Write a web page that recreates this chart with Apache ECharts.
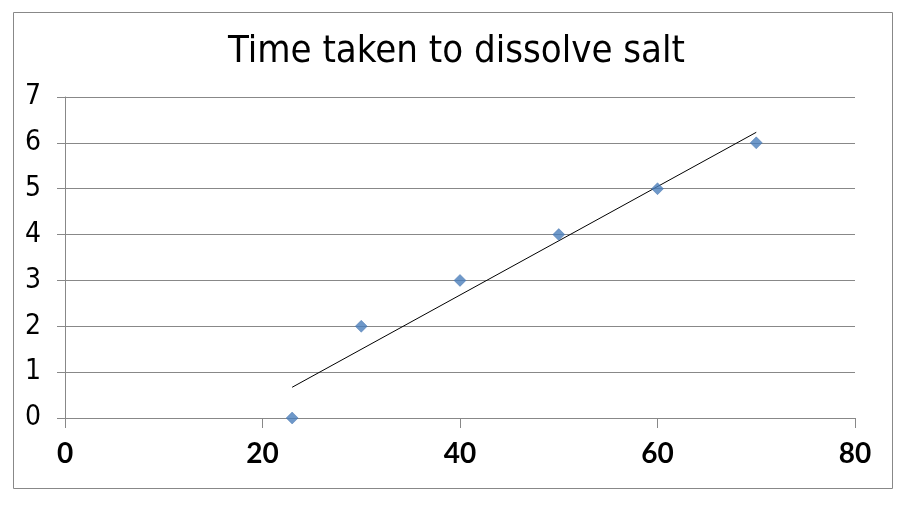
<!DOCTYPE html>
<html><head><meta charset="utf-8">
<script src="https://cdn.jsdelivr.net/npm/echarts@6/dist/echarts.min.js"></script>
<style>html,body{margin:0;padding:0;background:#fff}#c{width:918px;height:516px}</style>
</head><body><div id="c"></div>
<script>
var titleText = 'Time taken to dissolve salt';
var xValues = [23, 30, 40, 50, 60, 70];
var yValues = [0, 2, 3, 4, 5, 6];
var trendX = [23, 70];
var trendY = [0.67, 6.23];
var xTicks = [0, 20, 40, 60, 80];
var yTicks = [0, 1, 2, 3, 4, 5, 6, 7];

var points = xValues.map(function (x, i) { return [x, yValues[i]]; });
var trend = trendX.map(function (x, i) { return [x, trendY[i]]; });

var chart = echarts.init(document.getElementById('c'), null, {renderer: 'canvas'});
chart.setOption({
  animation: false,
  backgroundColor: '#fff',
  title: {
    text: titleText, left: 223, top: 28,
    textStyle: {fontFamily: '"Liberation Sans Narrow","DejaVu Sans Condensed","Roboto Condensed",sans-serif', fontWeight: 'normal', fontSize: 38, color: '#000'}
  },
  graphic: [{
    type: 'rect', shape: {x: 13.5, y: 12.5, width: 879, height: 476},
    style: {fill: 'none', stroke: '#888', lineWidth: 1}, z: -1
  }],
  grid: {left: 65, right: 63, top: 97, bottom: 98, containLabel: false},
  xAxis: {
    type: 'value', min: 0, max: 80, interval: 20,
    axisLine: {show: true, onZero: false, lineStyle: {color: '#888'}},
    axisTick: {show: true, length: 10, lineStyle: {color: '#888'}},
    splitLine: {show: false},
    axisLabel: {margin: 22, fontSize: 28, fontWeight: 'bold', color: '#000', fontFamily: 'Lato,"Noto Sans",sans-serif'}
  },
  yAxis: {
    type: 'value', min: 0, max: 7, interval: 1,
    axisLine: {show: true, lineStyle: {color: '#888'}},
    axisTick: {show: true, length: 8, lineStyle: {color: '#888'}},
    splitLine: {show: true, lineStyle: {color: '#888', width: 1}},
    axisLabel: {margin: 24, fontSize: 28, color: '#000', fontFamily: '"Liberation Sans Narrow","DejaVu Sans Condensed",sans-serif'}
  },
  series: [{
    type: 'line', data: trend, symbol: 'none', silent: true,
    lineStyle: {color: '#000', width: 1}, z: 2
  }, {
    type: 'scatter', data: points, symbol: 'diamond', symbolSize: 12,
    itemStyle: {color: '#4A7EBB', borderColor: '#3A6AA8', borderWidth: 0.5}, z: 3
  }]
});
</script></body></html>
